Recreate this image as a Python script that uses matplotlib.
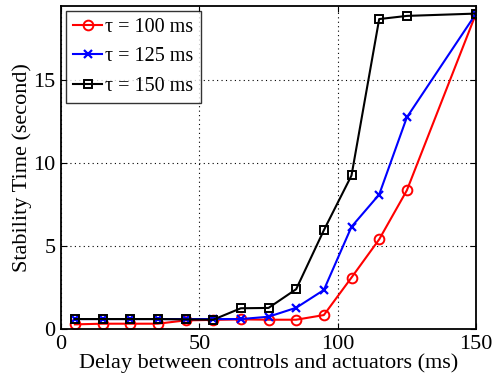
import matplotlib
matplotlib.use("Agg")
import matplotlib.pyplot as plt

plt.rcParams['font.family'] = ['Liberation Serif', 'DejaVu Serif']
plt.rcParams['mathtext.fontset'] = 'stix'

delay = [5, 15, 25, 35, 45, 55, 65, 75, 85, 95, 105, 115, 125, 150]
tau100 = [0.28, 0.32, 0.32, 0.32, 0.52, 0.55, 0.58, 0.56, 0.56, 0.84, 3.1, 5.4, 8.35, 19.0]
tau125 = [0.6, 0.6, 0.6, 0.6, 0.6, 0.6, 0.6, 0.74, 1.28, 2.35, 6.16, 8.1, 12.75, 19.0]
tau150 = [0.6, 0.6, 0.6, 0.6, 0.58, 0.56, 1.25, 1.27, 2.4, 5.95, 9.25, 18.67, 18.86, 19.0]
labels = ['τ = 100 ms', 'τ = 125 ms', 'τ = 150 ms']
xticks = [0, 50, 100, 150]
yticks = [0, 5, 10, 15]

fig = plt.figure(figsize=(4.92, 3.82), dpi=100)
ax = fig.add_axes([0.124, 0.1387, 0.8435, 0.8453])

ax.plot(delay, tau100, color='red', marker='o', markersize=7, markerfacecolor='none',
        markeredgewidth=1.4, linewidth=1.5, label=labels[0])
ax.plot(delay, tau125, color='blue', marker='x', markersize=6, markeredgewidth=1.6,
        linewidth=1.5, label=labels[1])
ax.plot(delay, tau150, color='black', marker='s', markersize=6, markerfacecolor='none',
        markeredgewidth=1.4, linewidth=1.5, label=labels[2])

ax.set_xlim(0, 150)
ax.set_ylim(0, 19.45)
ax.set_xticks(xticks)
ax.set_yticks(yticks)
ax.tick_params(direction='in', top=True, right=True, labelsize=16, length=4, width=0.8, pad=4)
ax.grid(True, linestyle=(0, (1, 3)), color='black', linewidth=0.8)
for s in ax.spines.values():
    s.set_linewidth(1.3)

ax.set_xlabel('Delay between controls and actuators (ms)', fontsize=16, labelpad=0)
ax.set_ylabel('Stability Time (second)', fontsize=16, labelpad=1)

leg = ax.legend(loc='upper left', fontsize=14.5, frameon=True, fancybox=False,
                edgecolor='black', handlelength=1.45, handletextpad=0.15,
                borderpad=0.35, labelspacing=0.5, borderaxespad=0.25)
leg.get_frame().set_linewidth(1.0)

fig.savefig('out.png', dpi=100)
